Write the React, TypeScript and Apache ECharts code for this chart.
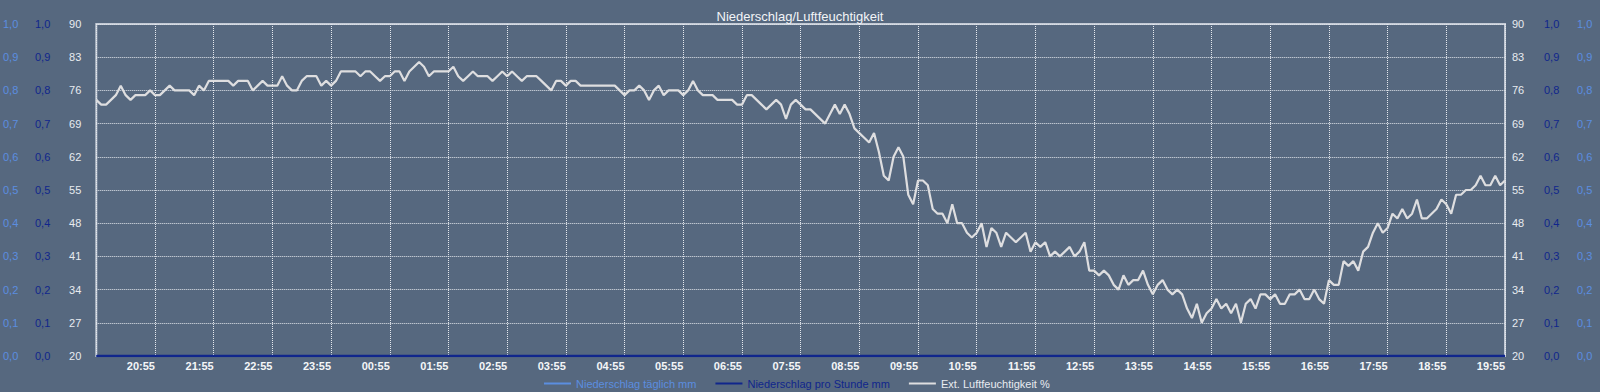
import { useEffect, useRef } from 'react';
import * as echarts from 'echarts';

// Time axis: 24 h starting 19:55, humidity sampled every 5 minutes
const startLabel = '19:55';
const humidityStepMinutes = 5;
const hourStepMinutes = 60;

const humidity: number[] = [
  74, 73, 73, 74, 75, 77, 75, 74, 75, 75,
  75, 76, 75, 75, 76, 77, 76, 76, 76, 76,
  75, 77, 76, 78, 78, 78, 78, 78, 77, 78,
  78, 78, 76, 77, 78, 77, 77, 77, 79, 77,
  76, 76, 78, 79, 79, 79, 77, 78, 77, 78,
  80, 80, 80, 80, 79, 80, 80, 79, 78, 79,
  79, 80, 80, 78, 80, 81, 82, 81, 79, 80,
  80, 80, 80, 81, 79, 78, 79, 80, 79, 79,
  79, 78, 79, 80, 79, 80, 79, 78, 79, 79,
  79, 78, 77, 76, 78, 78, 77, 78, 78, 77,
  77, 77, 77, 77, 77, 77, 77, 76, 75, 76,
  76, 77, 76, 74, 76, 77, 75, 76, 76, 76,
  75, 76, 78, 76, 75, 75, 75, 74, 74, 74,
  74, 73, 73, 75, 75, 74, 73, 72, 73, 74,
  73, 70, 73, 74, 73, 72, 72, 71, 70, 69,
  71, 73, 71, 73, 71, 68, 67, 66, 65, 67,
  63, 58, 57, 62, 64, 62, 54, 52, 57, 57,
  56, 51, 50, 50, 48, 52, 48, 48, 46, 45,
  46, 48, 43, 47, 46, 43, 46, 45, 44, 45,
  46, 42, 44, 43, 44, 41, 42, 41, 42, 43,
  41, 42, 44, 38, 38, 37, 38, 37, 35, 34,
  37, 35, 36, 36, 38, 35, 33, 35, 36, 34,
  33, 34, 33, 30, 28, 31, 27, 29, 30, 32,
  30, 31, 29, 31, 27, 31, 32, 30, 33, 33,
  32, 33, 31, 31, 33, 33, 34, 32, 32, 34,
  32, 31, 36, 35, 35, 40, 39, 40, 38, 42,
  43, 46, 48, 46, 47, 50, 49, 51, 49, 50,
  53, 49, 49, 50, 51, 53, 52, 50, 54, 54,
  55, 55, 56, 58, 56, 56, 58, 56, 57,
];

// Hourly precipitation values (all zero in the picture)
const rainDaily: number[] = [0, 0, 0, 0, 0, 0, 0, 0, 0, 0, 0, 0, 0, 0, 0, 0, 0, 0, 0, 0, 0, 0, 0, 0, 0];
const rainHourly: number[] = [0, 0, 0, 0, 0, 0, 0, 0, 0, 0, 0, 0, 0, 0, 0, 0, 0, 0, 0, 0, 0, 0, 0, 0, 0];

const seriesNames = ['Niederschlag täglich mm', 'Niederschlag pro Stunde mm', 'Ext. Luftfeuchtigkeit %'];
const humidityRange = { min: 20, max: 90, interval: 7 };
const rainRange = { min: 0, max: 1, interval: 0.1 };

const BG = '#56687f';
const LIGHT_BLUE = '#5b8ee0';
const DARK_BLUE = '#10268c';
const WHITE_TXT = '#e8ebf0';
const LINE_GRAY = '#dedee0';
const FONT = 'Liberation Sans, Arial, sans-serif';

function startMinutes(): number {
  const [h, m] = startLabel.split(':').map(Number);
  return h * 60 + m;
}

function timeLabel(v: number): string {
  const t = (startMinutes() + v) % 1440;
  const h = Math.floor(t / 60);
  const m = t % 60;
  return `${String(h).padStart(2, '0')}:${String(m).padStart(2, '0')}`;
}

const commaFmt = (v: number) => v.toFixed(1).replace('.', ',');

export default function App() {
  const ref = useRef<HTMLDivElement>(null);

  useEffect(() => {
    if (!ref.current) return;
    const chart = echarts.init(ref.current, undefined, { renderer: 'svg' });

    const totalMinutes = (humidity.length - 1) * humidityStepMinutes;
    const humData = humidity.map((v, i) => [i * humidityStepMinutes, v]);
    const dailyData = rainDaily.map((v, i) => [i * hourStepMinutes, v]);
    const hourlyData = rainHourly.map((v, i) => [i * hourStepMinutes, v]);

    const rainAxis = (position: 'left' | 'right', color: string, margin: number) => ({
      type: 'value' as const,
      position,
      min: rainRange.min,
      max: rainRange.max,
      interval: rainRange.interval,
      axisLine: { show: false },
      axisTick: { show: false },
      splitLine: { show: false },
      axisLabel: {
        margin,
        color,
        fontSize: 11,
        fontFamily: FONT,
        formatter: commaFmt,
      },
    });

    const humAxis = (position: 'left' | 'right', margin: number, split: boolean) => ({
      type: 'value' as const,
      position,
      min: humidityRange.min,
      max: humidityRange.max,
      interval: humidityRange.interval,
      axisLine: { show: false },
      axisTick: { show: false },
      splitLine: split
        ? { show: true, lineStyle: { color: '#e4e8ee', type: 'dotted', width: 1 } }
        : { show: false },
      axisLabel: {
        margin,
        color: WHITE_TXT,
        fontSize: 11,
        fontFamily: FONT,
      },
    });

    chart.setOption({
      animation: false,
      backgroundColor: BG,
      title: {
        text: 'Niederschlag/Luftfeuchtigkeit',
        left: 'center',
        top: 5,
        textStyle: { color: '#f2f4f7', fontSize: 13, fontWeight: 'normal', fontFamily: FONT },
      },
      legend: {
        left: 539,
        top: 373,
        icon: 'rect',
        itemWidth: 27,
        itemHeight: 2,
        itemGap: 19,
        textStyle: { fontSize: 11, fontFamily: FONT },
        data: [
          { name: seriesNames[0], textStyle: { color: LIGHT_BLUE } },
          { name: seriesNames[1], textStyle: { color: DARK_BLUE } },
          { name: seriesNames[2], textStyle: { color: WHITE_TXT } },
        ],
      },
      grid: {
        left: 95,
        right: 95,
        top: 24,
        bottom: 36,
        show: true,
        borderColor: '#c3cad5',
        borderWidth: 2,
        backgroundColor: 'transparent',
      },
      xAxis: {
        type: 'value',
        min: 0,
        max: totalMinutes,
        interval: hourStepMinutes,
        axisLine: { show: false },
        axisTick: { show: false },
        splitLine: { show: true, lineStyle: { color: '#e4e8ee', type: 'dotted', width: 1 } },
        axisLabel: {
          showMinLabel: false,
          align: 'right',
          margin: 4,
          color: '#f4f6f8',
          fontSize: 11,
          fontWeight: 'bold',
          fontFamily: FONT,
          formatter: (v: number) => timeLabel(v),
        },
      },
      yAxis: [
        humAxis('left', 15, true),
        rainAxis('left', DARK_BLUE, 46),
        rainAxis('left', LIGHT_BLUE, 78),
        humAxis('right', 7, false),
        rainAxis('right', DARK_BLUE, 39),
        rainAxis('right', LIGHT_BLUE, 72),
      ],
      series: [
        {
          name: seriesNames[0],
          type: 'line',
          yAxisIndex: 2,
          data: dailyData,
          showSymbol: false,
          symbol: 'none',
          lineStyle: { color: LIGHT_BLUE, width: 1.5 },
          itemStyle: { color: LIGHT_BLUE },
          z: 3,
        },
        {
          name: seriesNames[1],
          type: 'line',
          yAxisIndex: 1,
          data: hourlyData,
          showSymbol: false,
          symbol: 'none',
          lineStyle: { color: DARK_BLUE, width: 2.5 },
          itemStyle: { color: DARK_BLUE },
          z: 4,
        },
        {
          name: seriesNames[2],
          type: 'line',
          yAxisIndex: 0,
          data: humData,
          showSymbol: false,
          symbol: 'none',
          lineStyle: { color: LINE_GRAY, width: 2.2 },
          itemStyle: { color: LINE_GRAY },
          z: 5,
        },
      ],
    });

    return () => chart.dispose();
  }, []);

  return (
    <div
      ref={ref}
      style={{ position: 'fixed', left: 0, top: 0, width: 1600, height: 392 }}
    />
  );
}
